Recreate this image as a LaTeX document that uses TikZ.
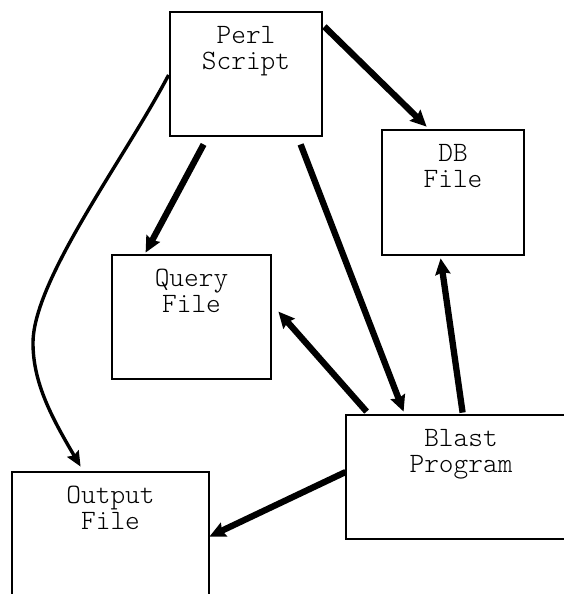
\documentclass[tikz,border=0pt]{standalone}
\usepackage{fontspec}
\newfontfamily\boxfont{Latin Modern Mono Light}
\usetikzlibrary{arrows.meta,calc}
\tikzset{
  box/.style={draw, line width=2.8pt, rectangle, inner sep=0pt},
  lbl/.style={anchor=north, inner sep=0pt, align=center, font=\boxfont\fontsize{28}{26}\selectfont},
  thick arrow/.style={line width=6.3pt, -{Stealth[length=16pt,width=15pt,inset=2pt]}},
  thin arrow/.style={line width=3.4pt, -{Stealth[length=15pt,width=13pt,inset=2pt]}}
}
\newcommand{\lbltop}{\rule{0pt}{24pt}}
\begin{document}
\begin{tikzpicture}[x=1pt,y=-1pt]
\useasboundingbox (0,0) rectangle (564,594);
\clip (0,0) rectangle (564,594);
% boxes
\node[box, minimum width=152pt, minimum height=124pt] (perl) at (246,74) {};
\node[box, minimum width=142pt, minimum height=125pt] (db) at (453,192.5) {};
\node[box, minimum width=159pt, minimum height=124pt] (query) at (191.5,317) {};
\node[box, minimum width=230pt, minimum height=124pt] (blast) at (461,477) {};
\node[box, minimum width=197pt, minimum height=124pt] (output) at (110.5,534) {};
% labels
\node[lbl] (perlt) at ([yshift=-9pt]perl.north) {\lbltop Perl\\Script};
\node[lbl] (dbt) at ([yshift=-9pt]db.north) {\lbltop DB\\File};
\node[lbl] (queryt) at ([yshift=-9pt]query.north) {\lbltop Query\\File};
\node[lbl] (blastt) at ([yshift=-9pt]blast.north) {\lbltop Blast\\Program};
\node[lbl] (outputt) at ([yshift=-9pt]output.north) {\lbltop Output\\File};
% connectors
\draw[thick arrow] ([shift={(1,16)}]perl.north east) -- ([shift={(46,-2)}]db.north west);
\draw[thick arrow] ([shift={(35,7)}]perl.south west) -- ([shift={(35,-1)}]query.north west);
\draw[thick arrow] ([shift={(132,7)}]perl.south west) -- ([shift={(59,-2)}]blast.north west);
\draw[thick arrow] ([shift={(22,-2)}]blast.north west) -- ([shift={(6,58)}]query.north east);
\draw[thick arrow] ([shift={(118,-1)}]blast.north west) -- ([shift={(60,2)}]db.south west);
\draw[thick arrow] ([shift={(1,-5)}]blast.west) -- ([shift={(-1,66)}]output.north east);
\coordinate (bend) at (33,343);
\draw[thin arrow] ([shift={(0,1)}]perl.west) .. controls (125,158) and (33,280) .. (bend)
   .. controls (33,383) and (52,418) .. ([shift={(70,-4)}]output.north west);
\end{tikzpicture}
\end{document}
